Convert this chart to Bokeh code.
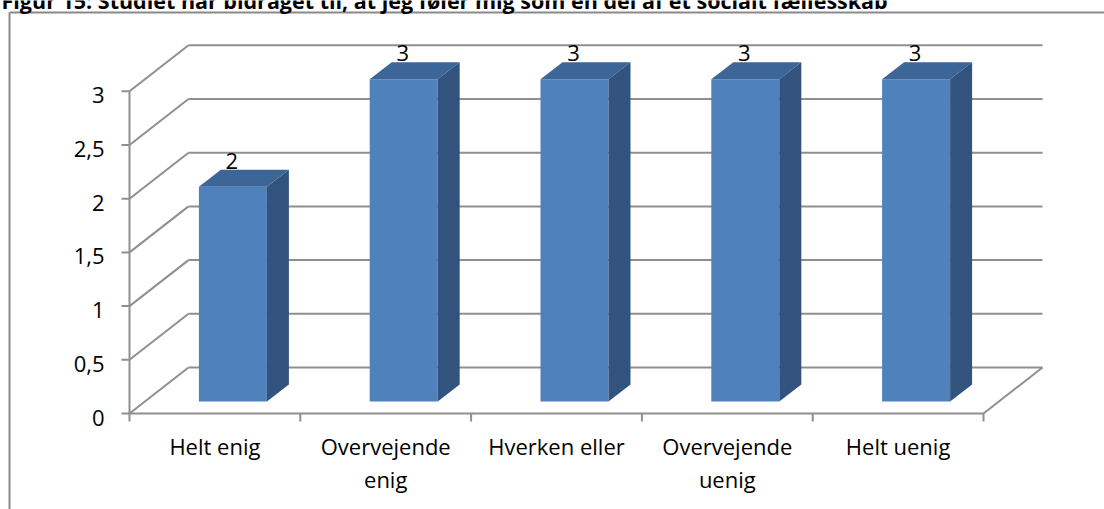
import numpy as np
from bokeh.plotting import figure
from bokeh.models import Range1d
from bokeh.core.properties import value
from bokeh.embed import file_html
from bokeh.resources import INLINE

# ---------------- data ----------------
categories = ["Helt enig", "Overvejende\nenig", "Hverken eller", "Overvejende\nuenig", "Helt uenig"]
counts = [2, 3, 3, 3, 3]
y_ticks = [0, 0.5, 1, 1.5, 2, 2.5, 3]
y_tick_labels = ["0", "0,5", "1", "1,5", "2", "2,5", "3"]
title_text = "Figur 15: Studiet har bidraget til, at jeg føler mig som en del af et socialt fællesskab"

# ---------------- geometry (pixels) ----------------
W, H = 1104, 509
X0, Y0 = 129, 413          # front corner of the axes
CW = 170.8                 # px per category
UY = 107.4                 # px per value unit
WALL_DX, WALL_DY = 59, 46  # depth of the 3D floor
BAR_FDX, BAR_FDY = 18, 12  # bar front offset into depth
BAR_DDX, BAR_DDY = 22, 17  # bar depth
BAR_W = 68
TICK = 8

FONT = "Open Sans"
FS = "22px"
GRID = "#8f8f8f"

n = len(categories)
vals = np.array(counts, dtype=float)
idx = np.arange(n)


def ux(px):
    return px / CW


def uy(px):
    return px / UY


p = figure(width=W, height=H, output_backend="svg", toolbar_location=None,
           x_range=Range1d(ux(-X0), ux(W - X0)), y_range=Range1d(-uy(H - Y0), uy(Y0)),
           min_border=0, title=None)
p.axis.visible = False
p.grid.visible = False
p.outline_line_color = None
p.background_fill_color = "white"
p.border_fill_color = "white"

# ---------------- back wall / floor grid ----------------
tv = np.array(y_ticks, dtype=float)
wx, wy = ux(WALL_DX), uy(WALL_DY)
p.segment(x0=np.zeros_like(tv), y0=tv, x1=np.full_like(tv, wx), y1=tv + wy,
          line_color=GRID, line_width=2)
p.segment(x0=np.full_like(tv, wx), y0=tv + wy, x1=np.full_like(tv, n + wx), y1=tv + wy,
          line_color=GRID, line_width=2)
p.segment(x0=[n], y0=[0], x1=[n + wx], y1=[wy], line_color=GRID, line_width=2)

# ---------------- axes (front) ----------------
ymax = max(y_ticks)
p.segment(x0=[0], y0=[0], x1=[0], y1=[ymax], line_color=GRID, line_width=2)
p.segment(x0=np.full_like(tv, -ux(TICK)), y0=tv, x1=np.zeros_like(tv), y1=tv,
          line_color=GRID, line_width=2)
p.text(x=np.full_like(tv, -ux(TICK + 17)), y=tv - uy(4), text=y_tick_labels,
       text_font=value(FONT), text_font_size=FS, text_color="black",
       text_align="right", text_baseline="middle")

xt = np.arange(n + 1, dtype=float)
p.segment(x0=[0], y0=[0], x1=[n], y1=[0], line_color=GRID, line_width=2)
p.segment(x0=xt, y0=np.zeros_like(xt), x1=xt, y1=np.full_like(xt, -uy(TICK)),
          line_color=GRID, line_width=2)

line1 = [c.split("\n")[0] for c in categories]
line2 = [c.split("\n")[1] if "\n" in c else "" for c in categories]
p.text(x=idx + 0.5, y=np.full(n, -uy(32)), text=line1, text_font=value(FONT),
       text_font_size=FS, text_color="black", text_align="center", text_baseline="middle")
p.text(x=idx + 0.5, y=np.full(n, -uy(65)), text=line2, text_font=value(FONT),
       text_font_size=FS, text_color="black", text_align="center", text_baseline="middle")

# ---------------- 3D bars ----------------
L = idx + 0.5 - ux(BAR_W / 2) + ux(BAR_FDX)
R = idx + 0.5 + ux(BAR_W / 2) + ux(BAR_FDX)
B = np.full(n, uy(BAR_FDY))
T = vals + uy(BAR_FDY)
ddx, ddy = ux(BAR_DDX), uy(BAR_DDY)

top_xs = [[l, r, r + ddx, l + ddx] for l, r in zip(L, R)]
top_ys = [[t, t, t + ddy, t + ddy] for t in T]
side_xs = [[r, r + ddx, r + ddx, r] for r in R]
side_ys = [[b, b + ddy, t + ddy, t] for b, t in zip(B, T)]

p.quad(left=L, right=R, bottom=B, top=T, fill_color="#4F81BD", line_color=None)
p.patches(xs=top_xs, ys=top_ys, fill_color="#3C6598", line_color=None)
p.patches(xs=side_xs, ys=side_ys, fill_color="#32537E", line_color=None)

# data labels
p.text(x=(L + R) / 2 - ux(1), y=T + uy(26), text=[str(c) for c in counts],
       text_font=value(FONT), text_font_size=FS, text_color="black",
       text_align="center", text_baseline="middle")

# ---------------- chart border box ----------------
bx, by = ux(9 - X0), uy(Y0 - 12)
p.segment(x0=[bx, bx], y0=[by, by], x1=[bx, ux(W + 20 - X0)], y1=[-uy(H + 20 - Y0), by],
          line_color="#8a8a8a", line_width=2)

# ---------------- title (cut at the top as in the source) ----------------
p.text(x=[ux(1 - X0)], y=[uy(Y0 + 0.5)], text=[title_text], text_font=value(FONT),
       text_font_style="bold", text_font_size="21.5px", text_color="black",
       text_align="left", text_baseline="alphabetic")

open("out.html", "w").write(file_html(p, INLINE))
